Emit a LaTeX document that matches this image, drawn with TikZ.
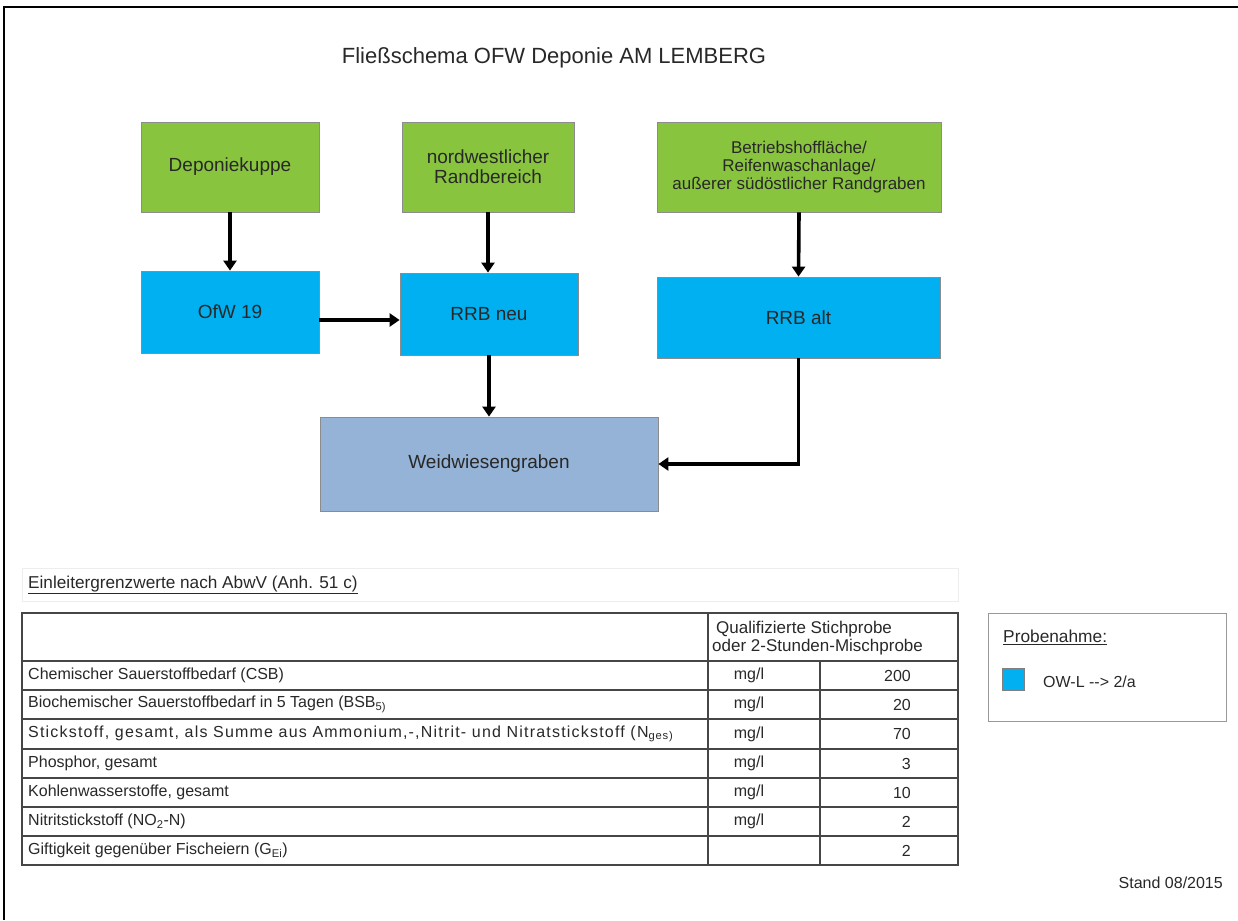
\documentclass[tikz,border=0pt]{standalone}
\usepackage{fontspec}
\setmainfont{Liberation Sans}
\usetikzlibrary{arrows.meta}
\definecolor{boxgreen}{RGB}{137,196,62}
\definecolor{boxblue}{RGB}{0,176,240}
\definecolor{boxgrey}{RGB}{149,179,215}
\definecolor{txt}{RGB}{40,40,40}
\definecolor{tabline}{RGB}{70,70,70}
\tikzset{
  flowbox/.style={draw=black!45, line width=0.8pt, text=txt, align=center, inner sep=2pt,
    font=\fontsize{19}{20}\selectfont},
  greenbox/.style={flowbox, fill=boxgreen},
  bluebox/.style={flowbox, fill=boxblue},
  greybox/.style={flowbox, fill=boxgrey},
  flowarrow/.style={line width=3.6pt, -{Triangle[length=10pt,width=13pt]}},
  tabtext/.style={text=txt, inner sep=0pt, font=\fontsize{16}{18}\selectfont},
  tabgrid/.style={draw=tabline, line width=1.1pt},
}
\begin{document}
\begin{tikzpicture}[x=1pt,y=-1pt]
\useasboundingbox (0,0) rectangle (1238,920);
% frame
\draw[line width=1.8pt] (1238,7) -- (4,7) -- (4,920);
% title
\node[text=txt, font=\fontsize{22}{24}\selectfont] (title) at (554,58) {Fließschema OFW Deponie AM LEMBERG};
% boxes
\node[greenbox, minimum width=178pt, minimum height=90pt] (kuppe) at (230,167) {Deponiekuppe};
\node[greenbox, minimum width=172pt, minimum height=90pt] (nordw) at (488,167) {nordwestlicher\\Randbereich};
\node[greenbox, minimum width=284pt, minimum height=90pt, font=\fontsize{17}{18}\selectfont] (betrieb) at (799,167) {Betriebshoffläche/\\Reifenwaschanlage/\\außerer südöstlicher Randgraben};
\node[bluebox, minimum width=178pt, minimum height=82pt] (ofw) at (230,312) {OfW 19};
\node[bluebox, minimum width=178pt, minimum height=82pt] (rrbneu) at (489,314) {RRB neu};
\node[bluebox, minimum width=283pt, minimum height=81pt] (rrbalt) at (798.5,317.5) {RRB alt};
\node[greybox, minimum width=338pt, minimum height=94pt] (weid) at (489,464) {Weidwiesengraben};
% arrows
\draw[flowarrow] (kuppe.south) -- (ofw.north);
\draw[flowarrow] (nordw.south) -- (nordw.south |- rrbneu.north);
\draw[flowarrow] (betrieb.south) -- (rrbalt.north);
\draw[flowarrow] ([yshift=-8pt]ofw.east) -- ([yshift=-8pt]ofw.east -| rrbneu.west);
\draw[flowarrow] (rrbneu.south) -- (rrbneu.south |- weid.north);
\draw[flowarrow] (rrbalt.south) |- (weid.east);
% table caption
\draw[draw=black!7, line width=0.8pt] (22,568) rectangle (958,601);
\node[tabtext, anchor=west, font=\fontsize{17.2}{18}\selectfont] (caption) at (28,585) {\underline{Einleitergrenzwerte nach AbwV (Anh. 51 c)}};
% table grid
\draw[tabgrid] (22,613) rectangle (958,865);
\foreach \y in {661,690,719,749,778,807,836} \draw[tabgrid] (22,\y) -- (958,\y);
\draw[tabgrid] (708,613) -- (708,865);
\draw[tabgrid] (820,661) -- (820,865);
% header
\node[tabtext, anchor=north west, align=left, font=\fontsize{17}{18}\selectfont] (head) at (712,621) {\hspace*{4pt}Qualifizierte Stichprobe\\oder 2-Stunden-Mischprobe};
% rows
\node[tabtext, anchor=west] (r1) at (28,675.5) {Chemischer Sauerstoffbedarf (CSB)};
\node[tabtext, anchor=west] (r2) at (28,704.5) {Biochemischer Sauerstoffbedarf in 5 Tagen (BSB\textsubscript{5)}};
\node[tabtext, anchor=west] (r3) at (28,734) {\addfontfeatures{LetterSpace=7.5}Stickstoff, gesamt, als Summe aus Ammonium,-,Nitrit- und Nitratstickstoff (N\textsubscript{ges)}};
\node[tabtext, anchor=west] (r4) at (28,763.5) {Phosphor, gesamt};
\node[tabtext, anchor=west] (r5) at (28,792.5) {Kohlenwasserstoffe, gesamt};
\node[tabtext, anchor=west] (r6) at (28,821.5) {Nitritstickstoff (NO\textsubscript{2}-N)};
\node[tabtext, anchor=west] (r7) at (28,850.5) {Giftigkeit gegenüber Fischeiern (G\textsubscript{Ei})};
\foreach \y/\n in {675.5/1,704.5/2,734/3,763.5/4,792.5/5,821.5/6}
  \node[tabtext] (u\n) at (749,\y) {mg/l};
\node[tabtext, anchor=east] (v1) at (911,675.5) {200};
\node[tabtext, anchor=east] (v2) at (911,704.5) {20};
\node[tabtext, anchor=east] (v3) at (911,734) {70};
\node[tabtext, anchor=east] (v4) at (911,763.5) {3};
\node[tabtext, anchor=east] (v5) at (911,792.5) {10};
\node[tabtext, anchor=east] (v6) at (911,821.5) {2};
\node[tabtext, anchor=east] (v7) at (911,850.5) {2};
% legend
\draw[draw=black!40, line width=0.9pt] (988,613) rectangle (1226,721);
\node[tabtext, anchor=west, font=\fontsize{17.3}{18}\selectfont] (probe) at (1003,637) {\underline{Probenahme:}};
\node[draw=black!50, fill=boxblue, minimum size=22pt, inner sep=0pt, line width=0.6pt] (legsq) at (1013.5,679) {};
\node[tabtext, anchor=west, font=\fontsize{16}{18}\selectfont] (legtxt) at (1043,682) {OW-L -{}-{}> 2/a};
% footer
\node[tabtext, anchor=east] (stand) at (1223,883) {Stand 08/2015};
\end{tikzpicture}
\end{document}
